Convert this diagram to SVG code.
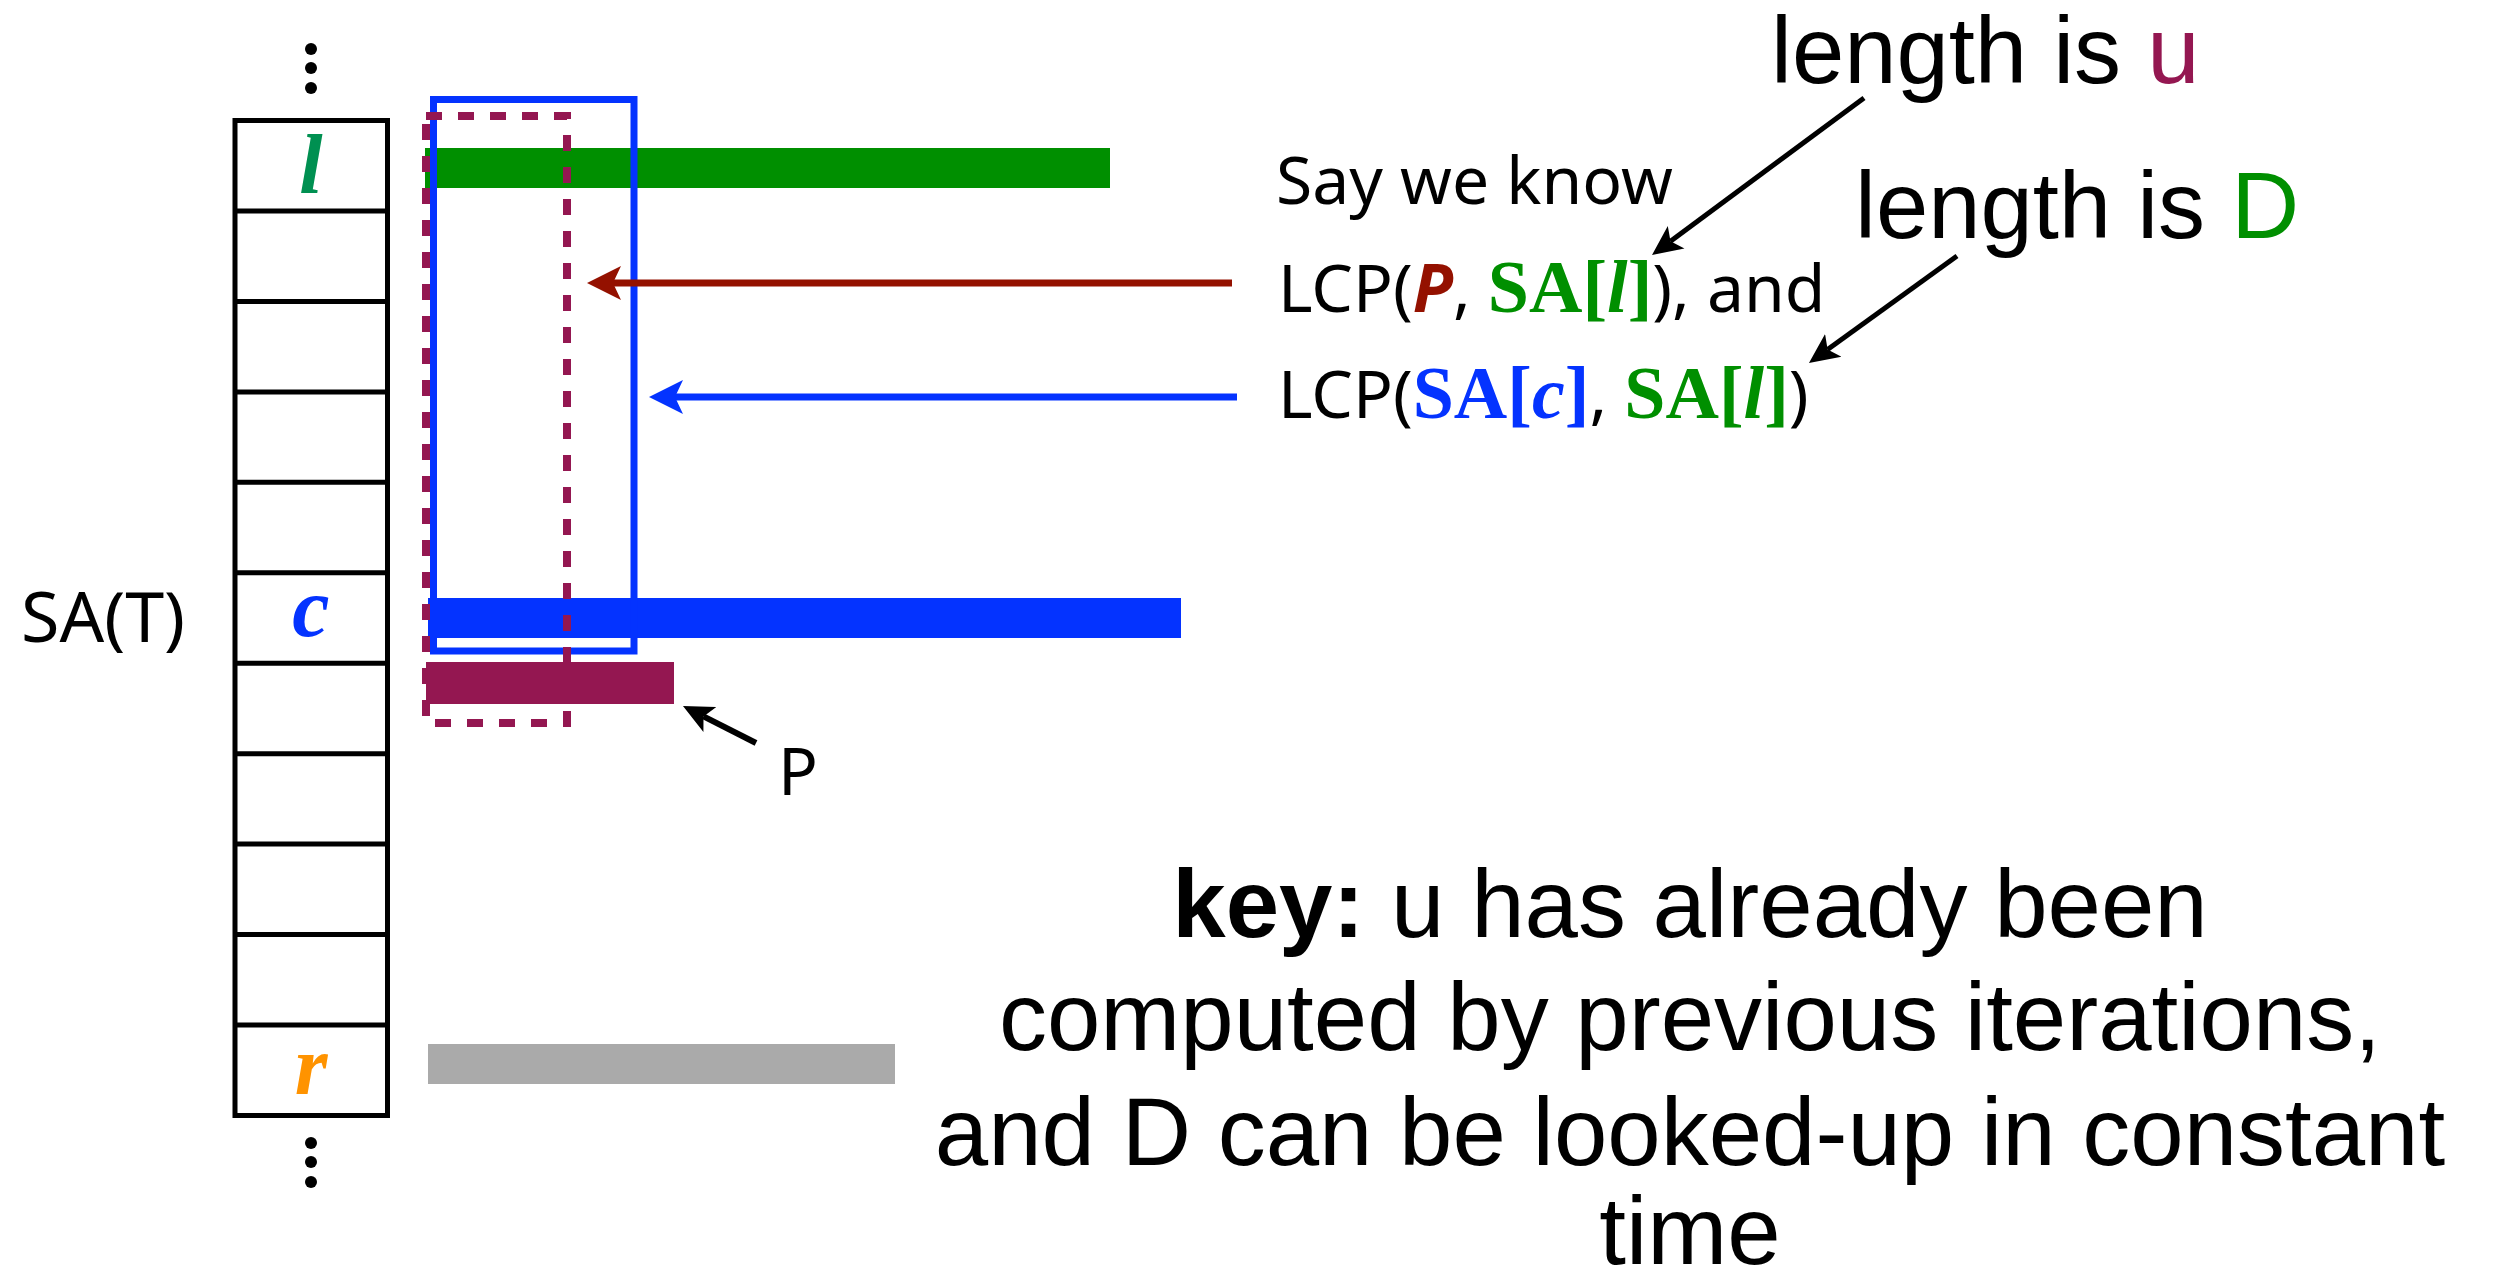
<svg xmlns="http://www.w3.org/2000/svg" width="2493" height="1285" viewBox="0 0 2493 1285">
<style>
.tbl{fill:none;stroke:#000;stroke-width:5}
.cell{font-family:"Liberation Serif",serif;font-weight:bold;font-style:italic;font-size:84px;text-anchor:middle}
.m{font-family:"Noto Sans","Open Sans",sans-serif;font-size:66px;fill:#000}
.tb{font-family:"Liberation Serif",serif;font-weight:bold;font-size:74px}
.big{font-family:"Liberation Sans",Arial,sans-serif;font-size:94px;fill:#000}
.key{font-family:"Liberation Sans",Arial,sans-serif;font-size:96px;fill:#000;text-anchor:middle}
.dot{fill:#000}
</style>
<defs>
<marker id="ahRed" viewBox="0 -18 36 36" refX="8" refY="0" markerWidth="36" markerHeight="36" markerUnits="userSpaceOnUse" orient="auto"><path d="M0,-17 L34,0 L0,17 L8,0 Z" fill="#941100"/></marker>
<marker id="ahBlue" viewBox="0 -18 36 36" refX="8" refY="0" markerWidth="36" markerHeight="36" markerUnits="userSpaceOnUse" orient="auto"><path d="M0,-17 L34,0 L0,17 L8,0 Z" fill="#0433FF"/></marker>
<marker id="ahBlack" viewBox="0 -15 32 30" refX="7" refY="0" markerWidth="32" markerHeight="30" markerUnits="userSpaceOnUse" orient="auto"><path d="M0,-14 L30,0 L0,14 L7,0 Z" fill="#000"/></marker>
</defs>

<g id="sa-table">
<circle class="dot" cx="311" cy="49" r="6"/><circle class="dot" cx="311" cy="68" r="6"/><circle class="dot" cx="311" cy="88" r="6"/>
<rect class="tbl" x="235" y="120.5" width="152.5" height="995"/>
<path class="tbl" d="M235,211 H387.5 M235,301.4 H387.5 M235,391.9 H387.5 M235,482.3 H387.5 M235,572.8 H387.5 M235,663.2 H387.5 M235,753.7 H387.5 M235,844.1 H387.5 M235,934.6 H387.5 M235,1025 H387.5"/>
<text class="cell" x="311" y="193" fill="#009051">l</text>
<text class="cell" x="311" y="636" fill="#0433FF">c</text>
<text class="cell" x="311" y="1094" fill="#FF9300">r</text>
<circle class="dot" cx="311" cy="1143" r="6"/><circle class="dot" cx="311" cy="1162" r="6"/><circle class="dot" cx="311" cy="1182" r="6"/>
</g>

<g id="sa-label"><text x="21" y="642" font-family="Noto Sans, Open Sans, sans-serif" font-size="70">SA(T)</text></g>

<g id="bars">
<rect id="bar-l" x="425" y="148" width="685" height="40" fill="#008F00"/>
<rect id="bar-c" x="428" y="598" width="753" height="40" fill="#0433FF"/>
<rect id="bar-p" x="426" y="662" width="248" height="42" fill="#941751"/>
<rect id="bar-r" x="428" y="1044" width="467" height="40" fill="#AAAAAA"/>
</g>

<g id="lcp-boxes">
<rect id="box-d" x="433.5" y="99.5" width="200.5" height="551.5" fill="none" stroke="#0433FF" stroke-width="7"/>
<rect id="box-u" x="426" y="116" width="141" height="607" fill="none" stroke="#941751" stroke-width="8" stroke-dasharray="16 16"/>
</g>

<g id="connectors">
<line x1="1232" y1="283" x2="613" y2="283" stroke="#941100" stroke-width="7" marker-end="url(#ahRed)"/>
<line x1="1237" y1="397" x2="675" y2="397" stroke="#0433FF" stroke-width="7" marker-end="url(#ahBlue)"/>
<line x1="1864" y1="98" x2="1670.5" y2="241.3" stroke="#000" stroke-width="5" marker-end="url(#ahBlack)"/>
<line x1="1957" y1="256" x2="1827.6" y2="349.5" stroke="#000" stroke-width="5" marker-end="url(#ahBlack)"/>
<line x1="756" y1="743" x2="703.5" y2="716.4" stroke="#000" stroke-width="6" marker-end="url(#ahBlack)"/>
</g>

<g id="p-label"><text x="778" y="795" font-family="Noto Sans, Open Sans, sans-serif" font-size="66">P</text></g>

<g id="say-text">
<text class="m" x="1276" y="204">Say we know</text>
<text class="m" x="1278" y="312">LCP(<tspan fill="#941100" font-weight="bold" font-style="italic">P</tspan>, <tspan class="tb" fill="#008F00">SA[<tspan font-style="italic">l</tspan>]</tspan>), and</text>
<text class="m" x="1278" y="418">LCP(<tspan class="tb" fill="#0433FF">SA[<tspan font-style="italic">c</tspan>]</tspan>, <tspan class="tb" fill="#008F00">SA[<tspan font-style="italic">l</tspan>]</tspan>)</text>
</g>

<g id="length-u"><text class="big" x="1771" y="83">length is <tspan fill="#941751">u</tspan></text></g>
<g id="length-d"><text class="big" x="1855" y="238">length is <tspan fill="#008F00">D</tspan></text></g>

<g id="key-text">
<text class="key" x="1690" y="937"><tspan font-weight="bold">key:</tspan> u has already been</text>
<text class="key" x="1690" y="1050">computed by previous iterations,</text>
<text class="key" x="1690" y="1165">and D can be looked-up in constant</text>
<text class="key" x="1690" y="1264">time</text>
</g>
</svg>
